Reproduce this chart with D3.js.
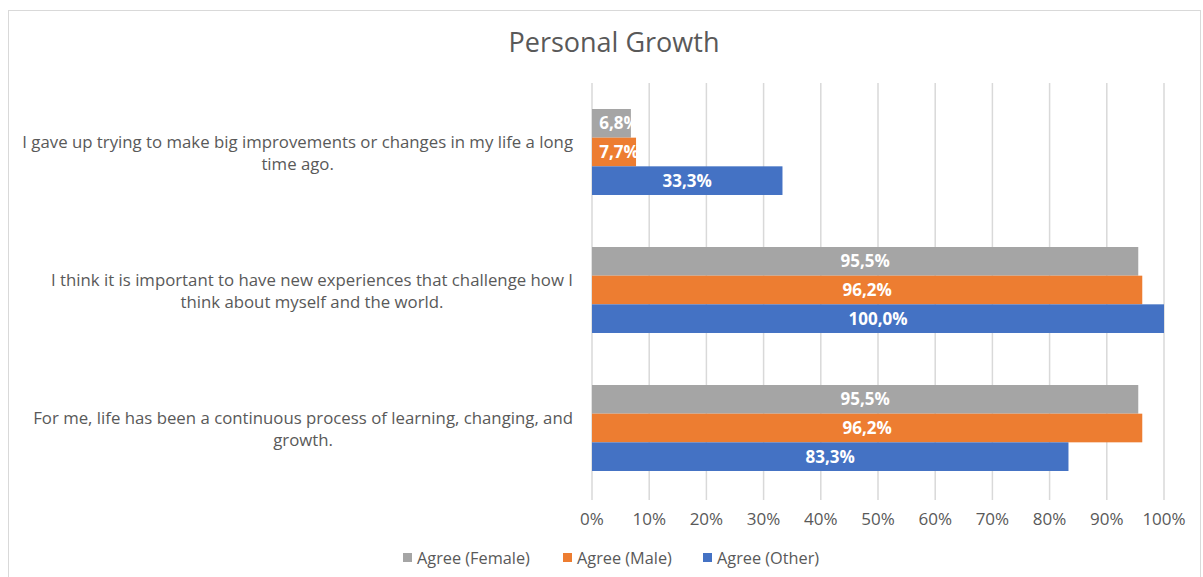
<!DOCTYPE html>
<html lang="en">
<head>
<meta charset="UTF-8"/>
<title>Personal Growth</title>
<script src="https://d3js.org/d3.v7.min.js"></script>
<style>
  body { margin: 0; background: #fff; }
  text { font-family: "Open Sans", Lato, sans-serif; }
</style>
</head>
<body>
<svg id="chart" width="1203" height="577"></svg>
<script>
// data
const categories = [
    ["I gave up trying to make big improvements or changes in my life a long", "time ago."],
    ["I think it is important to have new experiences that challenge how I", "think about myself and the world."],
    ["For me, life has been a continuous process of learning, changing, and", "growth."]
];
const seriesNames = ["Agree (Female)", "Agree (Male)", "Agree (Other)"];
const female = [6.8, 95.5, 95.5];
const male = [7.7, 96.2, 96.2];
const other = [33.3, 100, 83.3];
const tickValues = [0, 10, 20, 30, 40, 50, 60, 70, 80, 90, 100];
const colors = ["#a5a5a5", "#ed7d31", "#4472c4"];

const series = [female, male, other];

const svg = d3.select("#chart");

// chart frame
svg.append("rect")
    .attr("x", 8.5).attr("y", 10.5)
    .attr("width", 1192).attr("height", 580)
    .attr("fill", "#fff")
    .attr("stroke", "#d9d9d9");

svg.append("text")
    .attr("x", 614).attr("y", 52)
    .attr("text-anchor", "middle")
    .attr("font-size", 27)
    .attr("fill", "#595959")
    .text("Personal Growth");

let x = d3.scaleLinear().domain([0, 100]).range([592, 1164]);
let y = d3.scaleBand()
    .domain(d3.range(categories.length))
    .range([83, 497])
    .paddingInner(0.377)
    .paddingOuter(0.1885);
let ySub = d3.scaleBand()
    .domain(d3.range(series.length))
    .range([0, y.bandwidth()]);

// gridlines
svg.append("g")
    .selectAll("line")
    .data(tickValues)
    .enter().append("line")
    .attr("x1", d => x(d)).attr("x2", d => x(d))
    .attr("y1", 83).attr("y2", 500)
    .attr("stroke", "#d9d9d9")
    .attr("stroke-width", 1.5);

// tick labels
svg.append("g")
    .selectAll("text")
    .data(tickValues)
    .enter().append("text")
    .attr("x", d => x(d))
    .attr("y", 525)
    .attr("text-anchor", "middle")
    .attr("font-size", 17)
    .attr("fill", "#595959")
    .text(d => d + "%");

// bars
const groups = svg.append("g")
    .selectAll("g")
    .data(categories)
    .enter().append("g")
    .attr("transform", (d, i) => "translate(0," + y(i) + ")");

groups.each(function (c, i) {
    const g = d3.select(this);
    series.forEach(function (s, j) {
        g.append("rect")
            .attr("x", x(0))
            .attr("y", ySub(j))
            .attr("width", x(s[i]) - x(0))
            .attr("height", ySub.bandwidth())
            .attr("fill", colors[j]);
    });
    series.forEach(function (s, j) {
        // labels wider than their bar spill onto the white background, as in Excel
        g.append("text")
            .attr("x", Math.max((x(0) + x(s[i])) / 2, x(0) + 27))
            .attr("y", ySub(j) + ySub.bandwidth() / 2 + 6)
            .attr("text-anchor", "middle")
            .attr("font-size", 17)
            .attr("font-weight", "bold")
            .attr("fill", "#fff")
            .text(s[i].toFixed(1).replace(".", ",") + "%");
    });

    // wrapped category label, lines centred in a block right-aligned to the axis
    const lbl = g.append("g");
    const lines = lbl.selectAll("text")
        .data(c)
        .enter().append("text")
        .attr("y", (d, k) => y.bandwidth() / 2 - 4 + k * 22)
        .attr("text-anchor", "middle")
        .attr("font-size", 16.8)
        .attr("fill", "#595959")
        .text(d => d);
    let maxW = 0;
    lines.each(function () { maxW = Math.max(maxW, this.getComputedTextLength()); });
    lines.attr("x", 573 - maxW / 2);
});

// legend
const legendX = [403, 563, 703];
const legend = svg.append("g")
    .selectAll("g")
    .data(seriesNames)
    .enter().append("g")
    .attr("transform", (d, i) => "translate(" + legendX[i] + ",553)");
legend.append("rect")
    .attr("width", 9).attr("height", 9)
    .attr("fill", (d, i) => colors[i]);
legend.append("text")
    .attr("x", 14).attr("y", 11)
    .attr("font-size", 16.3)
    .attr("fill", "#595959")
    .text(d => d);
</script>
</body>
</html>
